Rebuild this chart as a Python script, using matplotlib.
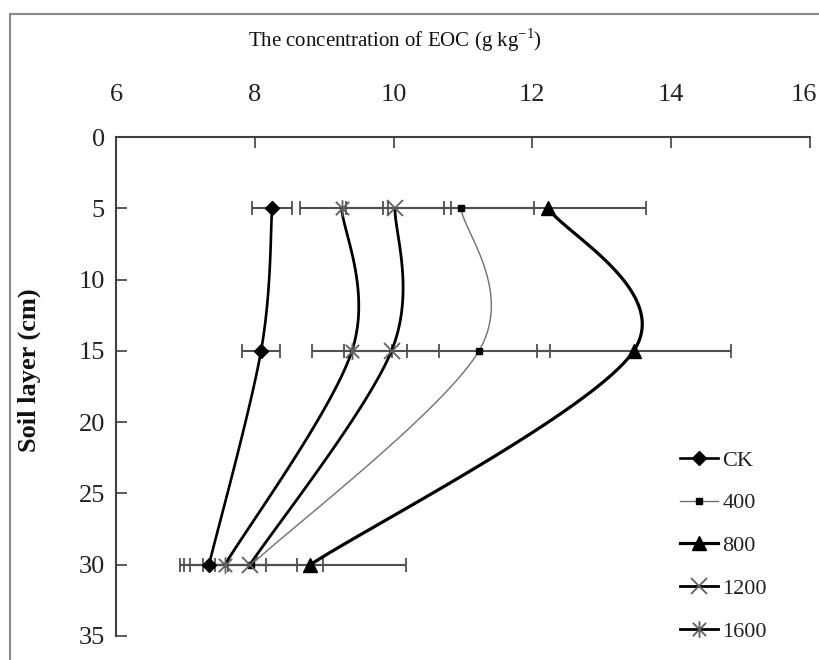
import numpy as np
import matplotlib
matplotlib.use("Agg")
import matplotlib.pyplot as plt
from matplotlib.path import Path
from matplotlib.lines import Line2D
from matplotlib.transforms import ScaledTranslation

# Soil depth (cm) and extractable organic carbon (g/kg) per treatment
depth = [5, 15, 30]
series_names = ["CK", "400", "800", "1200", "1600"]
eoc_ck = [8.25, 8.09, 7.34]
eoc_400 = [10.97, 11.23, 7.95]
eoc_800 = [12.23, 13.46, 8.80]
eoc_1200 = [10.02, 9.97, 7.93]
eoc_1600 = [9.25, 9.40, 7.57]
err_ck = [0.29, 0.28, 0.27]
err_400 = [1.05, 1.03, 1.03]
err_800 = [1.41, 1.40, 1.38]
err_1200 = [0.70, 0.68, 0.68]
err_1600 = [0.60, 0.57, 0.59]
x_ticks = [6, 8, 10, 12, 14, 16]
y_ticks = [0, 5, 10, 15, 20, 25, 30, 35]

values = [eoc_ck, eoc_400, eoc_800, eoc_1200, eoc_1600]
errors = [err_ck, err_400, err_800, err_1200, err_1600]

# asterisk marker: vertical bar plus an X
star_path = Path(
    [(0, -1), (0, 1), (-0.8, -0.8), (0.8, 0.8), (-0.8, 0.8), (0.8, -0.8)],
    [Path.MOVETO, Path.LINETO, Path.MOVETO, Path.LINETO, Path.MOVETO, Path.LINETO],
)

styles = [
    dict(color="black", lw=1.9, marker="D", ms=7, mfc="black", mec="black", mew=1),
    dict(color="#707070", lw=1.0, marker="s", ms=5, mfc="black", mec="black", mew=1),
    dict(color="black", lw=2.3, marker="^", ms=10, mfc="black", mec="black", mew=1),
    dict(color="black", lw=2.0, marker="x", ms=11, mfc="none", mec="#606060", mew=1.3),
    dict(color="black", lw=2.0, marker=star_path, ms=12, mfc="none", mec="#606060", mew=1.3),
]


def smooth(xs, ys, n=60):
    """Cardinal-spline smoothing through the points (Bezier segments)."""
    pts = np.column_stack([xs, ys]).astype(float)
    m = len(pts)
    out = []
    for i in range(m - 1):
        p0 = pts[i - 1] if i > 0 else pts[i]
        p1 = pts[i]
        p2 = pts[i + 1]
        p3 = pts[i + 2] if i + 2 < m else pts[i + 1]
        c1 = p1 + (p2 - p0) / 6.0
        c2 = p2 - (p3 - p1) / 6.0
        t = np.linspace(0, 1, n)[:, None]
        seg = ((1 - t) ** 3) * p1 + 3 * ((1 - t) ** 2) * t * c1 + 3 * (1 - t) * t ** 2 * c2 + t ** 3 * p2
        out.append(seg if i == 0 else seg[1:])
    seg = np.vstack(out)
    return seg[:, 0], seg[:, 1]


plt.rcParams["font.family"] = ["Liberation Serif", "DejaVu Serif"]

fig = plt.figure(figsize=(8.19, 6.60), dpi=100)
ax = fig.add_axes([116 / 819, 1 - 636 / 660, (810 - 116) / 819, (636 - 137) / 660])

# error bars
for vals, errs in zip(values, errors):
    ax.errorbar(vals, depth, xerr=errs, fmt="none", ecolor="#505050",
                elinewidth=1.5, capsize=5, capthick=1.3, zorder=2)

handles = []
for name, vals, st in zip(series_names, values, styles):
    sx, sy = smooth(vals, depth)
    ax.plot(sx, sy, color=st["color"], lw=st["lw"], zorder=3, solid_capstyle="round")
    ax.plot(vals, depth, linestyle="none", marker=st["marker"], ms=st["ms"],
            mfc=st["mfc"], mec=st["mec"], mew=st["mew"], zorder=4)
    handles.append(Line2D([], [], color=st["color"], lw=st["lw"], marker=st["marker"],
                          ms=st["ms"], mfc=st["mfc"], mec=st["mec"], mew=st["mew"], label=name))

ax.set_xlim(6, 16)
ax.set_ylim(35, 0)
ax.set_xticks(x_ticks)
ax.set_yticks(y_ticks)
ax.xaxis.tick_top()
ax.spines["bottom"].set_visible(False)
ax.spines["right"].set_visible(False)
for s in ("top", "left"):
    ax.spines[s].set_color("#404040")
    ax.spines[s].set_linewidth(1.5)
ax.tick_params(axis="x", direction="in", length=8, width=1.2, color="#404040",
               pad=22, labelsize=19, labelcolor="#222222")
ax.tick_params(axis="y", direction="in", length=8, width=1.2, color="#404040",
               pad=8, labelsize=19, labelcolor="#222222")
ax.set_facecolor("none")

# keep the last top tick label inside the figure edge
fig.canvas.draw()
last_label = ax.get_xticklabels()[-1]
last_label.set_transform(last_label.get_transform()
                         + ScaledTranslation(-6 / 100, 0, fig.dpi_scale_trans))

fig.text(395 / 819, 1 - 40 / 660, "The concentration of EOC (g kg$^{\\mathregular{-1}}$)",
         ha="center", va="center", fontsize=15, color="#111111")
fig.text(29 / 819, 1 - 370 / 660, "Soil layer (cm)", rotation=90, ha="center", va="center",
         fontsize=19, fontweight="bold", color="#111111")

leg = ax.legend(handles=handles, loc="upper left",
                bbox_to_anchor=(680 / 819, 1 - 450 / 660), bbox_transform=fig.transFigure,
                frameon=False, fontsize=16, handlelength=1.7, handletextpad=0.2,
                labelspacing=1.0, borderpad=0, borderaxespad=0)
for t in leg.get_texts():
    t.set_color("#222222")

# outer figure border (top and left edges)
fig.add_artist(Line2D([10 / 819, 1.0], [1 - 14 / 660, 1 - 14 / 660], transform=fig.transFigure,
                      color="#8a8a8a", lw=1.5))
fig.add_artist(Line2D([10 / 819, 10 / 819], [0.0, 1 - 14 / 660], transform=fig.transFigure,
                      color="#8a8a8a", lw=1.5))

fig.savefig("out.png", dpi=100)
